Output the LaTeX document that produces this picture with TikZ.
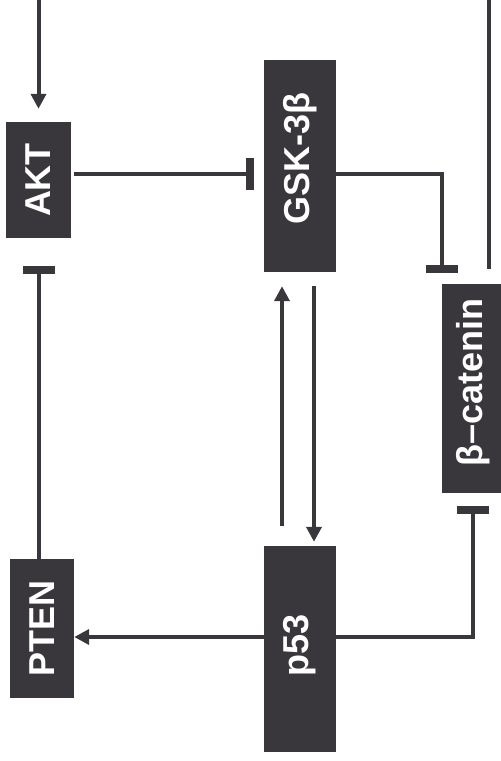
\documentclass[tikz,border=0pt]{standalone}
\usepackage{fontspec}
\setmainfont{Liberation Sans}
\usetikzlibrary{arrows.meta}
\definecolor{dk}{RGB}{57,55,60}
\begin{document}
\begin{tikzpicture}[x=1pt,y=-1pt,
  box/.style={fill=dk, draw=none, inner sep=0pt, text=white, font=\bfseries\fontsize{36}{36}\selectfont},
  con/.style={draw=dk, line width=4pt},
  act/.style={con, -{Triangle[width=15pt,length=15pt]}},
  inh/.style={con, -{Rectangle[width=32pt,length=8pt]}}
]
\useasboundingbox (0,0) rectangle (501,761);
% boxes
\node[box, minimum width=65pt, minimum height=116pt] (AKT) at (38.5,180) {\rotatebox{90}{AKT}};
\node[box, minimum width=72pt, minimum height=212pt] (GSK) at (300,166) {\rotatebox{90}{\hspace*{15pt}GSK-3β}};
\node[box, minimum width=62pt, minimum height=209pt] (bcat) at (473,388.5) {\rotatebox{90}{\hspace*{13pt}β–catenin}};
\node[box, minimum width=64pt, minimum height=139pt] (PTEN) at (42,628.5) {\rotatebox{90}{PTEN}};
\node[box, minimum width=72pt, minimum height=206pt] (p53) at (300,649) {\rotatebox{90}{\hspace*{8pt}p53}};
% helper coordinates
\coordinate (intop) at (38.5,0);
\coordinate (rtop) at (489,0);
\coordinate (rowA) at (0,173.5);
\coordinate (rowP) at (0,637);
\coordinate (colU) at (282,0);
\coordinate (colD) at (314,0);
% connectors
\draw[act, shorten >=13pt] (intop) -- (AKT.north);
\draw[inh, shorten <=3pt, shorten >=10pt] (AKT.east |- rowA) -- (GSK.west |- rowA);
\draw[inh, shorten >=11pt] (GSK.east |- rowA) -| (bcat.north west);
\draw[con, shorten <=15pt] (bcat.north -| rtop) -- (rtop);
\draw[inh, shorten >=28pt] (AKT.south |- PTEN.north) -- (AKT.south);
\draw[act] (p53.west |- rowP) -- (PTEN.east |- rowP);
\draw[inh, shorten >=13pt] (p53.east |- rowP) -| (bcat.south);
\draw[act, shorten <=20pt, shorten >=14pt] (colU |- p53.north) -- (colU |- GSK.south);
\draw[act, shorten <=14pt, shorten >=4pt] (colD |- GSK.south) -- (colD |- p53.north);
\end{tikzpicture}
\end{document}
